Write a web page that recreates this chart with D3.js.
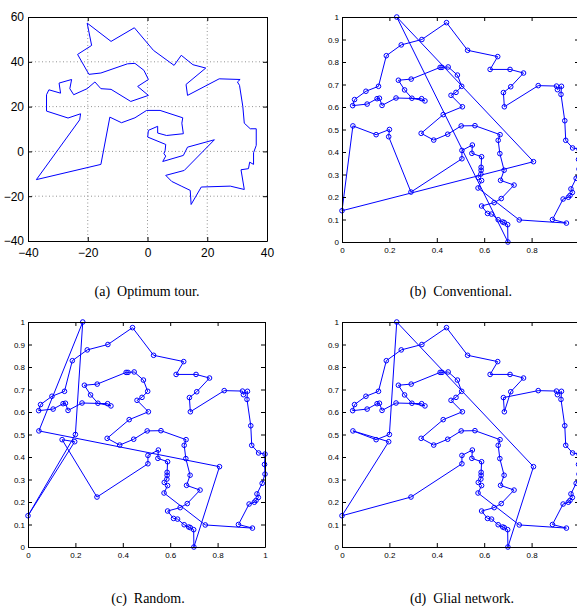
<!DOCTYPE html>
<html lang="en">
<head>
<meta charset="UTF-8">
<title>TSP tours</title>
<script src="https://d3js.org/d3.v7.min.js"></script>
<style>
  body { margin: 0; background: #fff; }
  svg { display: block; }
  .tick text { font-family: "Liberation Sans", Arial, sans-serif; fill: #000; }
  .caption { font-family: "Liberation Serif", "Times New Roman", serif; font-size: 14px; white-space: pre; }
</style>
</head>
<body>
<script>
// optimum tour (panel a), in its own coordinates
const optX = [-20.2,-18.7,-23.4,-19.6,-15.6,-6.7,-4.2,-1.2,0.3,-3.3,0.3,-5.6,-12.2,-15.6,-17.6,-20.2,-24.7,-26,-25.4,-29.6,-29.1,-33,-33.8,-33.8,-26.6,-22.4,-22.7,-37.2,-15.6,-12.6,-8.7,-4.2,-0.3,4.2,11.8,11.5,12,6.4,3.4,3.4,0.3,0.06,6.1,5.9,5.5,6.1,5.1,12,13.4,22.4,12.3,6.1,8.1,11.5,14.3,14.6,18,27.7,32.4,31.3,33.8,34.2,35.5,35.5,36.4,36.4,34.4,32.4,31.9,30.8,30.1,31,24,13.4,12.9,19.5,15.2,11.3,8.9,2,-4.4,-12.2];
const optY = [57.3,47.3,43.3,34.4,35,39.1,39.3,36.2,32.1,29,25,22.3,27.7,28,31,28,25.3,28,32.1,30.5,26,27.5,25.3,18,14.9,16.8,14.1,-12.6,-5.8,15.3,12.8,15,18.3,18.3,15,12.6,7.9,7.1,8.2,11.2,9.4,6.4,3.1,0.4,-1,-2.1,-4.5,-1.8,1.9,5.2,-8.5,-10.7,-13.4,-15.6,-17.4,-23.7,-15.9,-15.5,-17,-8.2,-7.7,-4.8,-5.8,-0.6,2.7,10.1,10.1,12.6,20.1,29.5,31,32.1,32.4,25,29.9,37.2,38.7,42.9,38.4,45.1,55.2,49.1];

// cities on the unit square (panels b, c, d)
const cityX = [0.231,0.200,0.144,0.046,0.197,0.000,0.291,0.506,0.506,0.550,0.548,0.589,0.587,0.587,0.586,0.575,0.589,0.574,0.748,0.947,
  0.888,0.933,0.955,0.962,0.972,0.966,0.988,1.000,0.998,1.000,0.973,0.944,0.940,0.924,0.926,0.909,0.905,0.828,0.681,0.685,
  0.712,0.766,0.709,0.625,0.657,0.530,0.441,0.337,0.250,0.187,0.154,0.101,0.053,0.045,0.106,0.148,0.158,0.169,0.228,0.336,
  0.350,0.295,0.264,0.238,0.292,0.414,0.422,0.448,0.487,0.505,0.481,0.460,0.508,0.427,0.334,0.387,0.446,0.503,0.561,0.667,
  0.659,0.666,0.684,0.669,0.726,0.672,0.642,0.589,0.614,0.631,0.659,0.678,0.685,0.699,0.700,0.808];
const cityY = [1.000,0.500,0.477,0.516,0.468,0.139,0.222,0.370,0.407,0.431,0.394,0.379,0.332,0.319,0.302,0.287,0.273,0.240,0.098,0.084,
  0.100,0.191,0.199,0.207,0.220,0.236,0.283,0.324,0.367,0.413,0.418,0.452,0.539,0.656,0.692,0.677,0.693,0.695,0.664,0.601,
  0.690,0.751,0.767,0.767,0.824,0.852,0.975,0.900,0.876,0.828,0.692,0.670,0.633,0.606,0.613,0.637,0.639,0.607,0.640,0.637,
  0.627,0.639,0.676,0.719,0.724,0.776,0.776,0.778,0.742,0.692,0.665,0.652,0.601,0.566,0.483,0.453,0.479,0.516,0.517,0.477,
  0.452,0.393,0.319,0.274,0.253,0.193,0.175,0.160,0.127,0.124,0.099,0.089,0.086,0.077,0.000,0.357];

const tourB = [0,94,93,92,91,90,89,88,87,86,85,84,83,82,81,80,79,78,77,76,75,74,73,72,71,70,69,68,67,66,65,64,63,62,61,60,59,58,57,56,
  55,54,53,52,51,50,49,48,47,46,45,44,43,42,41,40,38,39,37,36,35,34,33,32,31,30,29,28,27,26,25,24,23,22,21,20,19,18,17,16,
  15,14,13,12,11,10,9,8,7,6,4,1,2,3,5,95];
const tourC = [0,1,5,4,2,6,7,8,9,10,11,12,13,14,15,16,17,18,19,20,21,22,23,24,25,26,27,28,29,30,31,32,33,34,35,36,37,39,38,40,
  41,42,43,44,45,46,47,48,49,50,51,52,53,54,55,56,57,58,59,60,61,62,63,64,65,66,67,68,69,70,71,72,73,74,75,76,77,78,79,80,
  81,82,83,84,85,86,87,88,89,90,91,92,93,94,95,3];
const tourD = [0,1,2,3,4,5,6,7,8,9,10,11,12,13,14,15,16,17,18,19,20,21,22,23,24,25,26,27,28,29,30,31,32,33,34,35,36,37,38,39,
  40,41,42,43,44,45,46,47,48,49,50,51,52,53,54,55,56,57,58,59,60,61,62,63,64,65,66,67,68,69,70,71,72,73,74,75,76,77,78,79,
  80,81,82,83,84,85,86,87,88,89,90,91,92,93,94,95];

const optTicksX = [-40,-20,0,20,40];
const optTicksY = [-40,-20,0,20,40,60];
const unitTicksX = [0,0.2,0.4,0.6,0.8,1];
const unitTicksY = [0,0.1,0.2,0.3,0.4,0.5,0.6,0.7,0.8,0.9,1];

const blue = "#0000ff";

const svg = d3.select("body").append("svg")
  .attr("width", 577).attr("height", 606);

function frame(g, x, y, tx, ty, fmtX, fmtY, fs, padB, padL) {
  const w = x.range()[1], h = y.range()[0];
  g.append("g").attr("transform", "translate(0," + h + ")")
    .call(d3.axisBottom(x).tickValues(tx).tickSizeInner(-4).tickSizeOuter(0).tickPadding(padB).tickFormat(fmtX));
  g.append("g")
    .call(d3.axisLeft(y).tickValues(ty).tickSizeInner(-4).tickSizeOuter(0).tickPadding(padL).tickFormat(fmtY));
  g.append("g")
    .call(d3.axisTop(x).tickValues(tx).tickSizeInner(-4).tickSizeOuter(0).tickFormat(""));
  g.append("g").attr("transform", "translate(" + w + ",0)")
    .call(d3.axisRight(y).tickValues(ty).tickSizeInner(-4).tickSizeOuter(0).tickFormat(""));
  g.selectAll(".tick text").style("font-size", fs + "px");
  g.selectAll(".domain").attr("stroke", "#000").attr("stroke-width", 1);
}

// panel (a)
{
  const g = svg.append("g").attr("transform", "translate(28,17)");
  const x = d3.scaleLinear().domain([-40, 40]).range([0, 239]);
  const y = d3.scaleLinear().domain([-40, 60]).range([224, 0]);
  const grid = g.append("g").attr("stroke", "#777").attr("stroke-dasharray", "1,2.5").attr("stroke-width", 0.8);
  grid.selectAll("line.gx").data(optTicksX.slice(1, -1)).join("line")
    .attr("x1", d => x(d)).attr("x2", d => x(d)).attr("y1", 0).attr("y2", 224);
  grid.selectAll("line.gy").data(optTicksY.slice(1, -1)).join("line")
    .attr("class", "gy").attr("y1", d => y(d)).attr("y2", d => y(d)).attr("x1", 0).attr("x2", 239);
  const pts = optX.map((v, i) => [x(v), y(optY[i])]);
  g.append("path").attr("d", d3.line().curve(d3.curveLinearClosed)(pts))
    .attr("fill", "none").attr("stroke", blue).attr("stroke-width", 1);
  const f = d => d < 0 ? "\u2212" + Math.abs(d) : d;
  frame(g, x, y, optTicksX, optTicksY, f, f, 12, 7, 4);
}

const unitFmt = d => d === 0 || d === 1 ? d : d.toFixed(1);

function tourPanel(tx, ty, tour, cutRight) {
  const g = svg.append("g").attr("transform", "translate(" + tx + "," + ty + ")");
  const x = d3.scaleLinear().domain([0, 1]).range([0, 237]);
  const y = d3.scaleLinear().domain([0, 1]).range([225, 0]);
  const pts = tour.map(i => [x(cityX[i]), y(cityY[i])]);
  g.append("path").attr("d", d3.line().curve(d3.curveLinearClosed)(pts))
    .attr("fill", "none").attr("stroke", blue).attr("stroke-width", 1);
  g.selectAll("circle").data(d3.range(cityX.length)).join("circle")
    .attr("cx", i => x(cityX[i])).attr("cy", i => y(cityY[i])).attr("r", 2.3)
    .attr("fill", "none").attr("stroke", blue).attr("stroke-width", 1);
  // the "1" below the right edge falls outside the page in (b) and (d)
  const fx = cutRight ? (d => d === 1 ? "" : unitFmt(d)) : unitFmt;
  frame(g, x, y, unitTicksX, unitTicksY, fx, unitFmt, 8, 5, 3);
}

tourPanel(342, 17, tourB, true);
tourPanel(28, 322, tourC, false);
tourPanel(342, 322, tourD, true);

const captions = [
  { x: 147, y: 296, t: "(a)  Optimum tour." },
  { x: 461, y: 296, t: "(b)  Conventional." },
  { x: 148, y: 603, t: "(c)  Random." },
  { x: 462, y: 603, t: "(d)  Glial network." }
];
svg.selectAll("text.caption").data(captions).join("text")
  .attr("class", "caption").attr("x", d => d.x).attr("y", d => d.y)
  .attr("text-anchor", "middle").text(d => d.t);
</script>
</body>
</html>
